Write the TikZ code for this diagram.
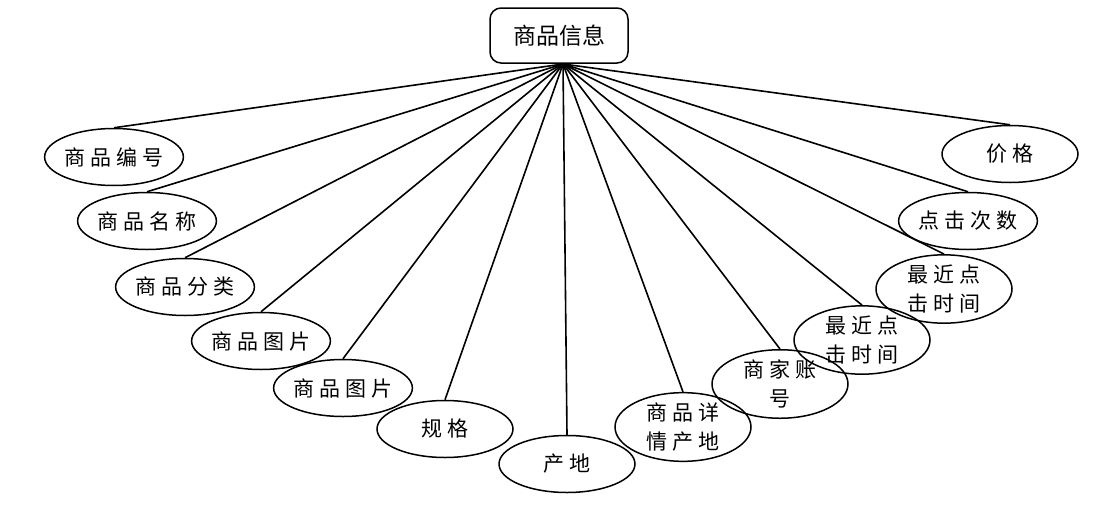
\documentclass[tikz,border=0pt]{standalone}
\usepackage{fontspec}
\setmainfont{Noto Sans CJK SC}
\newfontfamily\cjk{Noto Sans CJK SC}
\usetikzlibrary{shapes.geometric}
\begin{document}
\begin{tikzpicture}[x=1pt,y=-1pt,
  attr/.style={draw,ellipse,line width=1.5pt,minimum width=136pt,minimum height=57pt,inner sep=0pt,
    font=\fontsize{21}{29}\selectfont\cjk,align=center},
  root/.style={draw,rounded corners=11pt,line width=1.5pt,minimum width=138pt,minimum height=55pt,
    font=\fontsize{23}{28}\selectfont\cjk},
  link/.style={line width=1.6pt}]
\useasboundingbox (0,0) rectangle (1116,506);
\node[root] (r) at (559,35.5) {商品信息};
\coordinate (hub) at (563,64);
\node[attr] (a1) at (114,157) {商 品 编 号};
\node[attr] (a2) at (147,221) {商 品 名 称};
\node[attr] (a3) at (185,287) {商 品 分 类};
\node[attr] (a4) at (261,341) {商 品 图 片};
\node[attr] (a5) at (343,388) {商 品 图 片};
\node[attr] (a6) at (445,429) {规 格};
\node[attr] (a7) at (567,464) {产 地};
\node[attr] (a8) at (683,427) {商 品 详\\情 产 地};
\node[attr] (a9) at (780,384) {商 家 账\\号};
\node[attr] (a10) at (862,340) {最 近 点\\击 时 间};
\node[attr] (a11) at (944,289) {最 近 点\\击 时 间};
\node[attr] (a12) at (968,221) {点 击 次 数};
\node[attr] (a13) at (1010,154) {价 格};
\foreach \i in {1,...,13} \draw[link] (hub) -- (a\i.north);
\end{tikzpicture}
\end{document}
